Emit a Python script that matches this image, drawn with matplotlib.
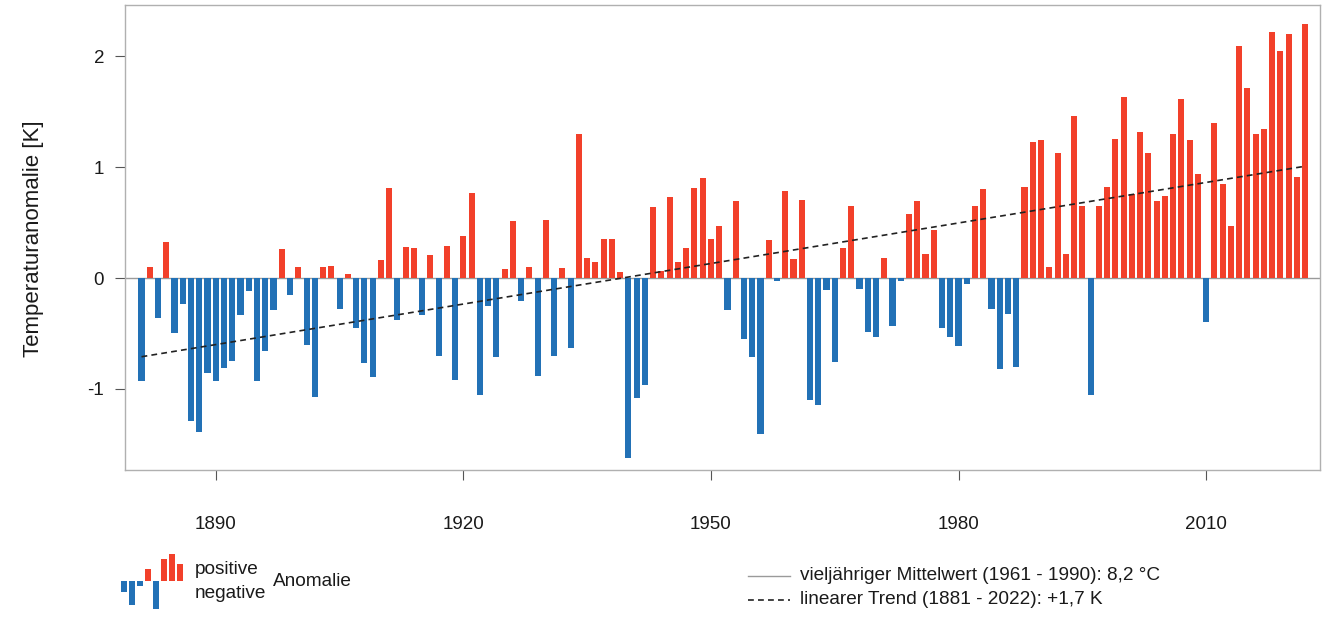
import numpy as np
import matplotlib
matplotlib.use("Agg")
import matplotlib.pyplot as plt
from matplotlib.lines import Line2D

plt.rcParams['font.family'] = ['Liberation Sans', 'DejaVu Sans']

# annual temperature anomaly vs. 1961-1990 mean (8,2 °C), 1881-2022
years = list(range(1881, 2023))
anomaly = [
    -0.93, 0.10, -0.36, 0.32, -0.50, -0.23, -1.29, -1.39, -0.86, -0.93,   # 1881-1890
    -0.81, -0.75, -0.33, -0.12, -0.93, -0.66, -0.29, 0.26, -0.15, 0.10,   # 1891-1900
    -0.60, -1.07, 0.10, 0.11, -0.28, 0.04, -0.45, -0.77, -0.89, 0.16,     # 1901-1910
    0.81, -0.38, 0.28, 0.27, -0.33, 0.21, -0.70, 0.29, -0.92, 0.38,       # 1911-1920
    0.77, -1.05, -0.25, -0.71, 0.08, 0.51, -0.21, 0.10, -0.88, 0.52,      # 1921-1930
    -0.70, 0.09, -0.63, 1.30, 0.18, 0.14, 0.35, 0.35, 0.05, -1.62,        # 1931-1940
    -1.08, -0.96, 0.64, 0.06, 0.73, 0.14, 0.27, 0.81, 0.90, 0.35,         # 1941-1950
    0.47, -0.29, 0.69, -0.55, -0.71, -1.41, 0.34, -0.03, 0.78, 0.17,      # 1951-1960
    0.70, -1.10, -1.14, -0.11, -0.76, 0.27, 0.65, -0.10, -0.49, -0.53,    # 1961-1970
    0.18, -0.43, -0.03, 0.58, 0.69, 0.22, 0.43, -0.45, -0.53, -0.61,      # 1971-1980
    -0.05, 0.65, 0.80, -0.28, -0.82, -0.32, -0.80, 0.82, 1.23, 1.24,      # 1981-1990
    0.10, 1.13, 0.22, 1.46, 0.65, -1.05, 0.65, 0.82, 1.25, 1.63,          # 1991-2000
    0.76, 1.32, 1.13, 0.69, 0.74, 1.30, 1.61, 1.24, 0.94, -0.40,          # 2001-2010
    1.40, 0.85, 0.47, 2.09, 1.71, 1.30, 1.34, 2.22, 2.05, 2.20,           # 2011-2020
    0.91, 2.29,                                                           # 2021-2022
]
xticks = [1890, 1920, 1950, 1980, 2010]
yticks = [-1, 0, 1, 2]

# little bars of the legend symbol
icon_vals = [-11, -24, -5, 12, -28, 22, 27, 17]

RED = '#f2402a'
BLUE = '#2271b6'
TXT = '#1a1a1a'


def main():
    x = np.array(years)
    y = np.array(anomaly)
    colors = [RED if v >= 0 else BLUE for v in y]

    W, H = 1326, 621
    fig = plt.figure(figsize=(W / 100, H / 100), dpi=100)
    ax = fig.add_axes([125 / W, 1 - 470 / H, (1320 - 125) / W, (470 - 5) / H])

    ax.bar(x, y, width=0.74, color=colors, zorder=2)
    ax.axhline(0, color='#9a9a9a', lw=1.0, zorder=1)

    # linear trend 1881-2022
    k, d = np.polyfit(x, y, 1)
    ax.plot(x, k * x + d, color='#222222', lw=1.2, ls=(0, (3.5, 2.5)), zorder=3)

    ax.set_xlim(1879.0, 2023.8)
    ax.set_ylim(-1.73, 2.46)
    ax.set_xticks(xticks)
    ax.set_yticks(yticks)
    ax.set_yticklabels([str(t) for t in yticks])
    ax.tick_params(axis='x', length=7, width=0.8, color='#555555', pad=26,
                   labelsize=13.5, labelcolor=TXT)
    ax.tick_params(axis='y', length=7, width=0.8, color='#555555', pad=8,
                   labelsize=13.5, labelcolor=TXT)
    for s in ax.spines.values():
        s.set_color('#b0b0b0')
        s.set_linewidth(1.0)
    ax.set_ylabel('Temperaturanomalie [K]', fontsize=16, color=TXT)
    ax.yaxis.set_label_coords((44 - 125) / 1195, 0.497)

    # legend symbol (small bars)
    iax = fig.add_axes([120 / W, 1 - 610 / H, 64 / W, 56 / H])
    ix = np.arange(len(icon_vals))
    iax.bar(ix, icon_vals, width=0.78,
            color=[RED if v > 0 else BLUE for v in icon_vals])
    iax.set_xlim(-0.5, len(icon_vals) - 0.5)
    iax.set_ylim(-29, 27)
    iax.axis('off')

    fs = 13.7
    fig.text(195 / W, 1 - 569 / H, 'positive', fontsize=fs, color=TXT, va='center')
    fig.text(195 / W, 1 - 593 / H, 'negative', fontsize=fs, color=TXT, va='center')
    fig.text(273 / W, 1 - 581 / H, 'Anomalie', fontsize=fs, color=TXT, va='center')

    # legend for mean line and trend
    fig.add_artist(Line2D([748 / W, 790 / W], [1 - 576 / H, 1 - 576 / H],
                          color='#9a9a9a', lw=1.0))
    fig.add_artist(Line2D([748 / W, 790 / W], [1 - 600 / H, 1 - 600 / H],
                          color='#222222', lw=1.2, ls=(0, (3.5, 2.5))))
    fig.text(800 / W, 1 - 576 / H, 'vieljähriger Mittelwert (1961 - 1990): 8,2 °C',
             fontsize=fs, color=TXT, va='center')
    fig.text(800 / W, 1 - 600 / H, 'linearer Trend (1881 - 2022): +1,7 K',
             fontsize=fs, color=TXT, va='center')

    fig.savefig('out.png', dpi=100)


if __name__ == "__main__":
    main()
